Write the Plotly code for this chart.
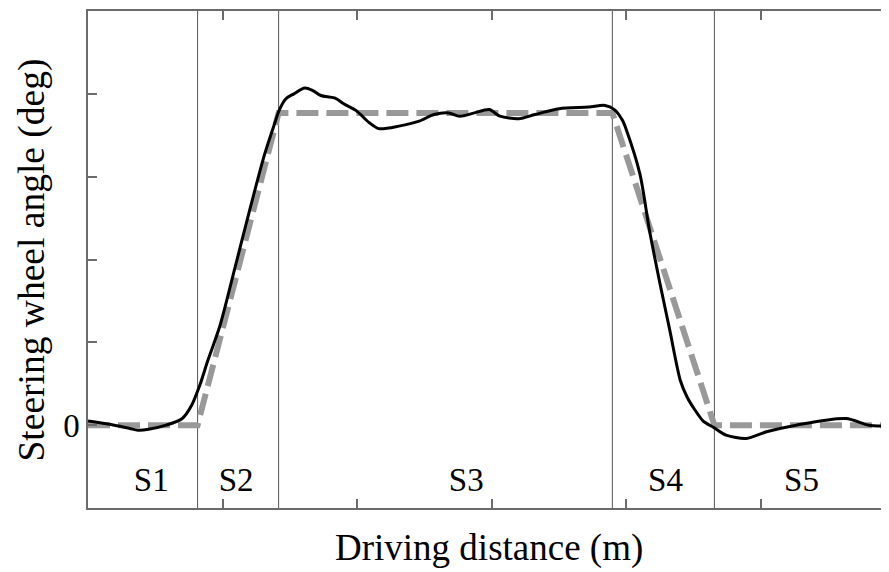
import plotly.graph_objects as go

# Measured steering wheel angle (black solid), in axis units
measured_x = [0.00, 0.16, 0.31, 0.37, 0.45, 0.58, 0.70, 0.77, 0.83, 0.89, 0.98, 1.09, 1.20,
              1.31, 1.39, 1.42, 1.47, 1.53, 1.61, 1.67, 1.73, 1.83, 1.91, 1.99, 2.09, 2.16,
              2.31, 2.46, 2.57, 2.68, 2.76, 2.87, 2.98, 3.06, 3.20, 3.32, 3.50, 3.72, 3.84,
              3.91, 3.97, 4.00, 4.10, 4.17, 4.25, 4.32, 4.40, 4.45, 4.51, 4.57, 4.65, 4.74,
              4.89, 5.04, 5.26, 5.63, 5.80, 5.95]
measured_y = [0.05, 0.01, -0.04, -0.06, -0.05, 0.00, 0.08, 0.24, 0.48, 0.78, 1.20, 1.89, 2.59,
              3.26, 3.66, 3.80, 3.94, 4.00, 4.07, 4.04, 3.98, 3.95, 3.87, 3.80, 3.65, 3.58,
              3.61, 3.67, 3.75, 3.77, 3.73, 3.77, 3.81, 3.73, 3.70, 3.75, 3.82, 3.84, 3.86,
              3.81, 3.68, 3.56, 3.03, 2.36, 1.70, 1.16, 0.54, 0.34, 0.18, 0.05, -0.03, -0.12,
              -0.16, -0.08, 0.00, 0.08, 0.00, -0.01]

# Reference (idealised) steering profile (grey dashed)
reference_x = [0.00, 0.814, 1.416, 3.895, 4.653, 5.95]
reference_y = [0.00, 0.00, 3.77, 3.77, 0.00, 0.00]

# Segment boundaries and labels
segment_bounds = [0.814, 1.416, 3.895, 4.653]
segment_labels = ["S1", "S2", "S3", "S4", "S5"]
segment_label_x = [0.47, 1.10, 2.81, 4.29, 5.30]
segment_label_y = -0.70

y_tickvals = [0, 1, 2, 3, 4]
y_ticktext = ["0", "", "", "", ""]
x_tickvals = [0, 1, 2, 3, 4, 5]

FONT = "Liberation Serif, Times New Roman, serif"
AXIS_COLOR = "#6b6b6b"

fig = go.Figure()

for b in segment_bounds:
    fig.add_trace(go.Scatter(x=[b, b], y=[-1, 5], mode="lines",
                             line=dict(color="#555555", width=1),
                             showlegend=False, hoverinfo="skip"))

fig.add_trace(go.Scatter(x=reference_x, y=reference_y, mode="lines",
                         line=dict(color="#999999", width=6, dash="22px,8px"),
                         showlegend=False))
fig.add_trace(go.Scatter(x=measured_x, y=measured_y, mode="lines",
                         line=dict(color="black", width=3, shape="spline", smoothing=0.8),
                         showlegend=False))

fig.add_trace(go.Scatter(x=segment_label_x, y=[segment_label_y] * len(segment_labels),
                         mode="text", text=segment_labels,
                         textfont=dict(family=FONT, size=33, color="black"),
                         showlegend=False))

# right-side mirrored y ticks (frame is cut off at the right)
fig.add_trace(go.Scatter(x=[None], y=[None], yaxis="y2", showlegend=False))

# The page body has an 8px default margin, so the figure is sized/offset to fit the window
fig.update_layout(
    width=881, height=564,
    margin=dict(l=80, r=0, t=3, b=64, autoexpand=False),
    paper_bgcolor="white", plot_bgcolor="white",
    font=dict(family=FONT, size=33, color="black"),
    xaxis=dict(range=[0, 5.95], tickvals=x_tickvals, ticktext=[""] * len(x_tickvals),
               ticks="inside", ticklen=9, tickwidth=1.5, tickcolor=AXIS_COLOR,
               showline=True, linecolor=AXIS_COLOR, linewidth=1.5, mirror="ticks",
               showgrid=False, zeroline=False, automargin=False),
    yaxis=dict(range=[-1, 5], tickvals=y_tickvals, ticktext=y_ticktext,
               ticks="inside", ticklen=9, tickwidth=1.5, tickcolor=AXIS_COLOR,
               showline=True, linecolor=AXIS_COLOR, linewidth=1.5,
               showgrid=False, zeroline=False, ticklabelstandoff=0, automargin=False,
               tickfont=dict(family=FONT, size=33, color="black")),
    yaxis2=dict(range=[-1, 5], overlaying="y", side="right", tickvals=y_tickvals,
                ticktext=[""] * len(y_tickvals), ticks="inside", ticklen=3,
                tickwidth=1.5, tickcolor=AXIS_COLOR, showline=False, automargin=False,
                showgrid=False, zeroline=False),
    annotations=[
        dict(text="Driving distance (m)", xref="paper", yref="paper", x=0.5006, y=-0.0805,
             showarrow=False, xanchor="center", yanchor="middle",
             font=dict(family=FONT, size=37, color="black")),
        dict(text="Steering wheel angle (deg)", xref="paper", yref="paper", x=-0.0705, y=0.499,
             showarrow=False, xanchor="center", yanchor="middle", textangle=-90,
             font=dict(family=FONT, size=37.5, color="black")),
    ],
)

fig.write_html("out.html")
